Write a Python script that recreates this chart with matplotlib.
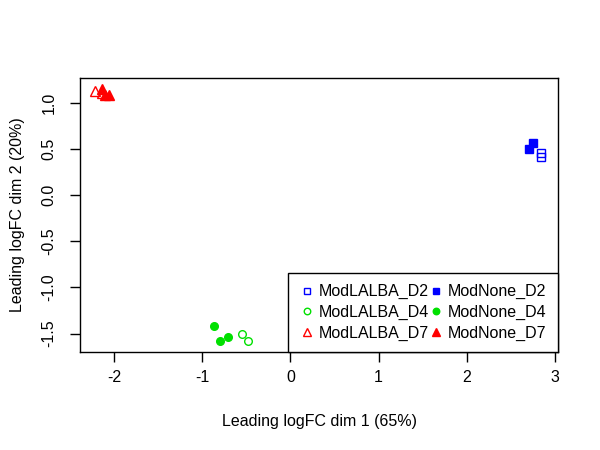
import matplotlib
matplotlib.use("Agg")
import matplotlib.pyplot as plt

plt.rcParams["font.family"] = ["Liberation Sans", "DejaVu Sans"]
plt.rcParams["font.size"] = 11.5

# MDS coordinates
lalba_d2_x = [2.84, 2.84]
lalba_d2_y = [0.45, 0.41]
none_d2_x = [2.75, 2.70]
none_d2_y = [0.56, 0.50]
lalba_d4_x = [-0.545, -0.477]
lalba_d4_y = [-1.50, -1.58]
none_d4_x = [-0.863, -0.795, -0.704]
none_d4_y = [-1.42, -1.58, -1.54]
lalba_d7_x = [-2.21, -2.14]
lalba_d7_y = [1.12, 1.10]
none_d7_x = [-2.13, -2.10, -2.06]
none_d7_y = [1.15, 1.08, 1.08]

x_ticks = [-2, -1, 0, 1, 2, 3]
y_ticks = [-1.5, -1.0, -0.5, 0.0, 0.5, 1.0]

fig = plt.figure(figsize=(6, 4.5), dpi=100)
ax = fig.add_axes([80 / 600, 98 / 450, 478 / 600, 274 / 450])

ms = 5.5
ax.plot(lalba_d2_x, lalba_d2_y, "s", mfc="none", mec="blue", ms=ms, mew=1, ls="none", label="ModLALBA_D2")
ax.plot(lalba_d4_x, lalba_d4_y, "o", mfc="none", mec="#00e000", ms=ms, mew=1, ls="none", label="ModLALBA_D4")
ax.plot(lalba_d7_x, lalba_d7_y, "^", mfc="none", mec="red", ms=ms + 1, mew=1, ls="none", label="ModLALBA_D7")
ax.plot(none_d2_x, none_d2_y, "s", color="blue", ms=ms, ls="none", label="ModNone_D2")
ax.plot(none_d4_x, none_d4_y, "o", color="#00e000", ms=ms, ls="none", label="ModNone_D4")
ax.plot(none_d7_x, none_d7_y, "^", color="red", ms=ms + 1, ls="none", label="ModNone_D7")

ax.set_xlim(-2.385, 3.034)
ax.set_ylim(-1.70, 1.266)
ax.set_xticks(x_ticks)
ax.set_xticklabels(["-2", "-1", "0", "1", "2", "3"])
ax.set_yticks(y_ticks)
ax.set_yticklabels(["-1.5", "-1.0", "-0.5", "0.0", "0.5", "1.0"], rotation=90, va="center")
ax.tick_params(direction="out", length=7, width=1, pad=10)
ax.tick_params(axis="x", pad=6)
for sp in ax.spines.values():
    sp.set_linewidth(1)

ax.set_xlabel("Leading logFC dim 1 (65%)", labelpad=21)
ax.set_ylabel("Leading logFC dim 2 (20%)", labelpad=12)

leg = ax.legend(loc="lower right", ncol=2, borderaxespad=0, fancybox=False,
                edgecolor="black", framealpha=1, handletextpad=0.3,
                columnspacing=0.0, borderpad=0.7, labelspacing=0.35,
                handlelength=0.9, fontsize=11.5, markerscale=0.85)
leg.get_frame().set_linewidth(1)

fig.savefig("out.png", dpi=100)
